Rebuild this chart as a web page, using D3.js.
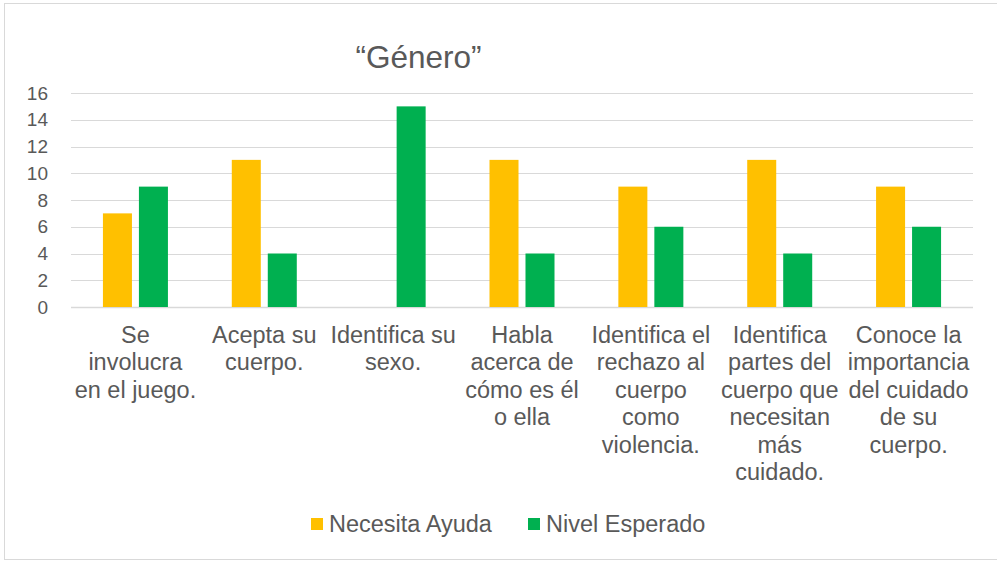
<!DOCTYPE html>
<html>
<head>
<meta charset="utf-8">
<script src="https://cdn.jsdelivr.net/npm/d3@7"></script>
<style>
  body { margin: 0; background: #fff; }
  text { font-family: "Liberation Sans", Arial, sans-serif; fill: #595959; }
</style>
</head>
<body>
<div id="chart"></div>
<script>
var categories = [
  ['Se', 'involucra', 'en el juego.'],
  ['Acepta su', 'cuerpo.'],
  ['Identifica su', 'sexo.'],
  ['Habla', 'acerca de', 'cómo es él', 'o ella'],
  ['Identifica el', 'rechazo al', 'cuerpo', 'como', 'violencia.'],
  ['Identifica', 'partes del', 'cuerpo que', 'necesitan', 'más', 'cuidado.'],
  ['Conoce la', 'importancia', 'del cuidado', 'de su', 'cuerpo.']
]
var seriesNames = ['Necesita Ayuda', 'Nivel Esperado']
var necesitaAyuda = [7, 11, 0, 11, 9, 11, 9]
var nivelEsperado = [9, 4, 15, 4, 6, 4, 6]
var yTicks = [0, 2, 4, 6, 8, 10, 12, 14, 16]

var colors = ['#FFC000', '#00B050']
var width = 997, height = 561
var plot = {left: 71, right: 973, top: 93, bottom: 307}

var svg = d3.select('#chart').append('svg')
  .attr('width', width)
  .attr('height', height)

// outer border
svg.append('rect')
  .attr('x', 4.5).attr('y', 3.5)
  .attr('width', 1000).attr('height', 556)
  .attr('fill', 'none')
  .attr('stroke', '#d9d9d9')

var idx = d3.range(categories.length)
var x0 = d3.scaleBand().domain(idx).range([plot.left, plot.right]).padding(0)
var groupW = 65
var x1 = d3.scaleBand().domain(seriesNames).range([0, groupW]).paddingInner(0.194)
var y = d3.scaleLinear().domain([0, 16]).range([plot.bottom, plot.top])

// gridlines
svg.append('g').selectAll('line')
  .data(yTicks)
  .enter().append('line')
  .attr('x1', plot.left).attr('x2', plot.right)
  .attr('y1', d => Math.round(y(d)) + 0.5)
  .attr('y2', d => Math.round(y(d)) + 0.5)
  .attr('stroke', '#d9d9d9')
  .attr('stroke-width', d => d === 0 ? 1.5 : 1)

// y axis labels
svg.append('g').selectAll('text')
  .data(yTicks)
  .enter().append('text')
  .attr('x', 48)
  .attr('y', d => y(d))
  .attr('dy', '0.35em')
  .attr('text-anchor', 'end')
  .style('font-size', '19px')
  .text(d => d)

var data = idx.map(i => [necesitaAyuda[i], nivelEsperado[i]])

var groups = svg.append('g').selectAll('g')
  .data(data)
  .enter().append('g')
  .attr('transform', (d, i) => 'translate(' + (x0(i) + (x0.bandwidth() - groupW) / 2) + ',0)')

groups.selectAll('rect')
  .data(d => d.map((v, j) => ({v: v, s: seriesNames[j], c: colors[j]})))
  .enter().append('rect')
  .filter(d => d.v > 0)
  .attr('x', d => x1(d.s))
  .attr('y', d => y(d.v))
  .attr('width', x1.bandwidth())
  .attr('height', d => y(0) - y(d.v))
  .attr('fill', d => d.c)

// category labels
var labels = svg.append('g').selectAll('text')
  .data(categories)
  .enter().append('text')
  .attr('text-anchor', 'middle')
  .style('font-size', '23.5px')

labels.selectAll('tspan')
  .data((d, i) => d.map(line => ({line: line, i: i})))
  .enter().append('tspan')
  .attr('x', d => x0(d.i) + x0.bandwidth() / 2)
  .attr('y', (d, k) => 343 + k * 27.4)
  .text(d => d.line)

// title
svg.append('text')
  .attr('x', 418.5)
  .attr('y', 68)
  .attr('text-anchor', 'middle')
  .style('font-size', '31.5px')
  .text('\u201cGénero\u201d')

// legend
var legendX = [311, 528]
var legend = svg.append('g').selectAll('g')
  .data(seriesNames)
  .enter().append('g')
  .attr('transform', (d, i) => 'translate(' + legendX[i] + ',518)')

legend.append('rect')
  .attr('width', 12).attr('height', 12)
  .attr('fill', (d, i) => colors[i])

legend.append('text')
  .attr('x', 18)
  .attr('y', 14)
  .style('font-size', '23.5px')
  .text(d => d)
</script>
</body>
</html>
